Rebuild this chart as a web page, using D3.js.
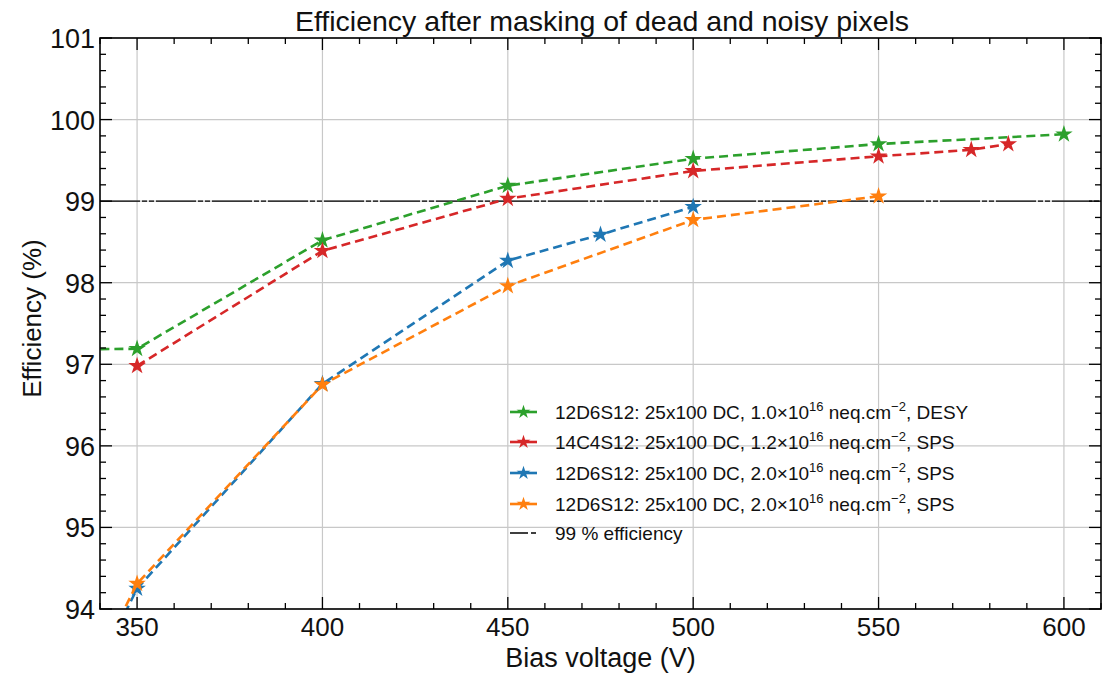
<!DOCTYPE html>
<html><head><meta charset="utf-8">
<script src="https://cdn.jsdelivr.net/npm/d3@7"></script>
<style>body{margin:0;background:#fff}svg{display:block}</style>
</head><body>
<svg id="c" width="1115" height="673"></svg>
<script>
// Data
const greenX = [325, 350, 400, 450, 500, 550, 600];
const greenY = [97.18, 97.19, 98.52, 99.19, 99.52, 99.70, 99.82];
const redX = [350, 400, 450, 500, 550, 575, 585];
const redY = [96.98, 98.39, 99.03, 99.37, 99.55, 99.63, 99.70];
const blueX = [330, 350, 400, 450, 475, 500];
const blueY = [92.4, 94.25, 96.76, 98.27, 98.59, 98.93];
const orangeX = [330, 350, 400, 450, 500, 550];
const orangeY = [92.5, 94.31, 96.75, 97.96, 98.77, 99.06];
const seriesNames = ["12D6S12: 25x100 DC, 1.0×10|16| neq.cm|−2|, DESY",
  "14C4S12: 25x100 DC, 1.2×10|16| neq.cm|−2|, SPS",
  "12D6S12: 25x100 DC, 2.0×10|16| neq.cm|−2|, SPS",
  "12D6S12: 25x100 DC, 2.0×10|16| neq.cm|−2|, SPS"];
const seriesColors = ["#2ca02c", "#d62728", "#1f77b4", "#ff7f0e"];
const xTicks = [350, 400, 450, 500, 550, 600];
const yTicks = [94, 95, 96, 97, 98, 99, 100, 101];
const threshold = 99;

const svg = d3.select("#c");
const L = 100, R = 1101, T = 38, B = 609;
const x = d3.scaleLinear().domain([340, 610]).range([L, R]);
const y = d3.scaleLinear().domain([94, 101]).range([B, T]);

// grid
const g = svg.append("g");
g.selectAll(".gx").data(xTicks).join("line").attr("x1", d => x(d)).attr("x2", d => x(d))
  .attr("y1", T).attr("y2", B).attr("stroke", "#c8c8c8").attr("stroke-width", 1.2);
g.selectAll(".gy").data(yTicks).join("line").attr("y1", d => y(d)).attr("y2", d => y(d))
  .attr("x1", L).attr("x2", R).attr("stroke", "#c8c8c8").attr("stroke-width", 1.2);

// 99% line
svg.append("line").attr("x1", L).attr("x2", R).attr("y1", y(threshold)).attr("y2", y(threshold))
  .attr("stroke", "#000").attr("stroke-width", 1.4).attr("stroke-dasharray", "40,2,5,2,5,2");

svg.append("clipPath").attr("id", "pc").append("rect")
  .attr("x", L).attr("y", T).attr("width", R - L).attr("height", B - T);

const all = [[greenX, greenY], [redX, redY], [blueX, blueY], [orangeX, orangeY]];
const plot = svg.append("g").attr("clip-path", "url(#pc)");
const line = d3.line().x(d => x(d[0])).y(d => y(d[1]));
const star = d3.symbol().type(d3.symbolStar).size(95);
all.forEach((s, i) => {
  const pts = s[0].map((v, j) => [v, s[1][j]]);
  plot.append("path").datum(pts).attr("d", line).attr("fill", "none")
    .attr("stroke", seriesColors[i]).attr("stroke-width", 2.6).attr("stroke-dasharray", "9,5");
  plot.selectAll(null).data(pts).join("path")
    .attr("transform", d => `translate(${x(d[0])},${y(d[1])})`)
    .attr("d", star).attr("fill", seriesColors[i]);
});

// axes frame
svg.append("rect").attr("x", L).attr("y", T).attr("width", R - L).attr("height", B - T)
  .attr("fill", "none").attr("stroke", "#000").attr("stroke-width", 1.6);

const xMinor = d3.range(340, 611, 10);
const yMinor = d3.range(94, 101.001, 0.2);
const tk = svg.append("g").attr("stroke", "#000").attr("stroke-width", 1.3);
xMinor.forEach(v => {
  const major = xTicks.includes(v);
  const len = major ? 12 : 6;
  tk.append("line").attr("x1", x(v)).attr("x2", x(v)).attr("y1", B).attr("y2", B - len);
  tk.append("line").attr("x1", x(v)).attr("x2", x(v)).attr("y1", T).attr("y2", T + len);
});
yMinor.forEach(v => {
  const major = Math.abs(v - Math.round(v)) < 1e-6;
  const len = major ? 12 : 6;
  tk.append("line").attr("y1", y(v)).attr("y2", y(v)).attr("x1", L).attr("x2", L + len);
  tk.append("line").attr("y1", y(v)).attr("y2", y(v)).attr("x1", R).attr("x2", R - len);
});

// tick labels
svg.selectAll(".xl").data(xTicks).join("text").attr("x", d => x(d)).attr("y", B + 27)
  .attr("text-anchor", "middle").attr("font-family", "Liberation Sans Narrow, Arial Narrow, sans-serif")
  .attr("font-size", 26).attr("fill", "#111").text(d => d);
svg.selectAll(".yl").data(yTicks).join("text").attr("x", L - 5).attr("y", d => y(d) + 10)
  .attr("text-anchor", "end").attr("font-family", "Liberation Sans, Arial, sans-serif")
  .attr("font-size", 27).attr("fill", "#111").text(d => d);

// titles
svg.append("text").attr("x", 602).attr("y", 31).attr("text-anchor", "middle")
  .attr("font-family", "Liberation Sans, Arial, sans-serif").attr("font-size", 28.5).attr("fill", "#111")
  .text("Efficiency after masking of dead and noisy pixels");
svg.append("text").attr("x", (L + R) / 2).attr("y", 667).attr("text-anchor", "middle")
  .attr("font-family", "Liberation Sans Narrow, Arial Narrow, sans-serif").attr("font-size", 27).attr("fill", "#111")
  .text("Bias voltage (V)");
svg.append("text").attr("transform", `translate(41,${(T + B) / 2 - 5}) rotate(-90)`).attr("text-anchor", "middle")
  .attr("font-family", "Liberation Sans, Arial, sans-serif").attr("font-size", 26).attr("fill", "#111")
  .text("Efficiency (%)");

// legend
const lg = svg.append("g");
const rowY = [412, 442, 473, 504];
seriesNames.forEach((name, i) => {
  const yy = rowY[i];
  lg.append("line").attr("x1", 510).attr("x2", 537).attr("y1", yy).attr("y2", yy)
    .attr("stroke", seriesColors[i]).attr("stroke-width", 2.6);
  lg.append("path").attr("transform", `translate(523.5,${yy})`).attr("d", d3.symbol().type(d3.symbolStar).size(60)())
    .attr("fill", seriesColors[i]);
  const t = lg.append("text").attr("x", 555).attr("y", yy + 7)
    .attr("font-family", "Liberation Sans, Arial, sans-serif").attr("font-size", 19).attr("fill", "#111");
  name.split("|").forEach((part, k) => {
    const ts = t.append("tspan").text(part);
    if (k % 2 === 1) ts.attr("dy", -8).attr("font-size", 13);
    else if (k > 0) ts.attr("dy", 8);
  });
});
lg.append("line").attr("x1", 510).attr("x2", 537).attr("y1", 533).attr("y2", 533)
  .attr("stroke", "#000").attr("stroke-width", 1.4).attr("stroke-dasharray", "18,3,5,2");
lg.append("text").attr("x", 555).attr("y", 540).attr("font-family", "Liberation Sans, Arial, sans-serif")
  .attr("font-size", 19).attr("fill", "#111").text("99 % efficiency");
</script>
</body></html>
